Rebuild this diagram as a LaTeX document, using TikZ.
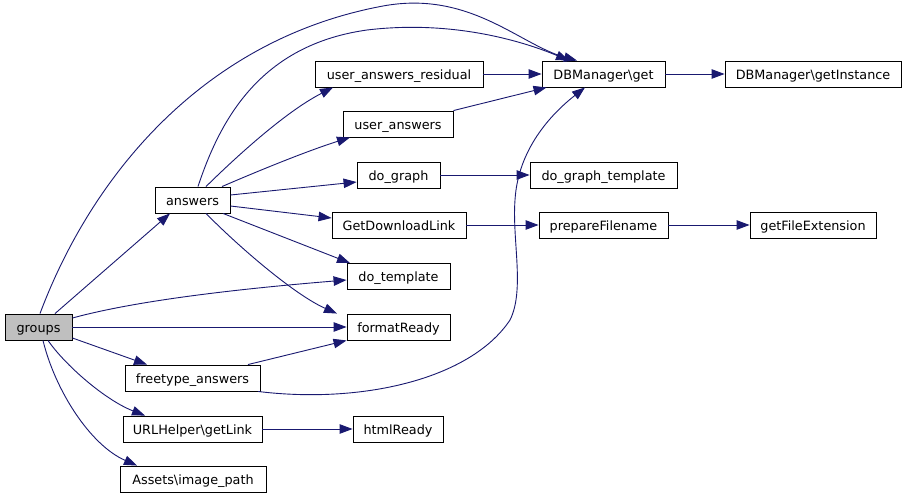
\documentclass[tikz,border=0pt]{standalone}
\usepackage{fontspec}
\setmainfont{DejaVu Sans}
\usetikzlibrary{arrows.meta}
\definecolor{edgec}{HTML}{191970}
\definecolor{curfill}{HTML}{BFBFBF}
\begin{document}
\begin{tikzpicture}[x=1pt,y=-1pt,
  fn/.style={draw=black, line width=0.9pt, fill=white, inner sep=0pt,
    minimum height=26pt, text height=10pt, text depth=0pt,
    font=\fontsize{12.8}{14}\selectfont, anchor=center},
  cur/.style={fn, fill=curfill},
  cg/.style={draw=edgec, line width=0.9pt, -{Triangle[length=13pt,width=9.5pt]}}]
\useasboundingbox[fill=white] (0,0) rectangle (907,498);

\node[cur, minimum width=67pt]  (groups)   at (38.5,327) {groups};
\node[fn, minimum width=75pt]   (answers)  at (192.5,200) {answers};
\node[fn, minimum width=168pt]  (uar)      at (399,74) {user\_answers\_residual};
\node[fn, minimum width=110pt]  (ua)       at (398,124) {user\_answers};
\node[fn, minimum width=83pt]   (dograph)  at (398.5,175) {do\_graph};
\node[fn, minimum width=134pt]  (getdl)    at (399,225) {GetDownloadLink};
\node[fn, minimum width=103pt]  (dotemp)   at (398.5,276.5) {do\_template};
\node[fn, minimum width=103pt]  (fready)   at (398.5,327) {formatReady};
\node[fn, minimum width=135pt]  (freetype) at (192.5,378) {freetype\_answers};
\node[fn, minimum width=139pt]  (url)      at (192.5,429) {URLHelper\textbackslash getLink};
\node[fn, minimum width=90pt]   (html)     at (398,429) {htmlReady};
\node[fn, minimum width=146pt]  (assets)   at (193,479) {Assets\textbackslash image\_path};
\node[fn, minimum width=123pt]  (dbget)    at (603.5,74) {DBManager\textbackslash get};
\node[fn, minimum width=176pt]  (dbgi)     at (813,74) {DBManager\textbackslash getInstance};
\node[fn, minimum width=147pt]  (dgt)      at (603.5,175) {do\_graph\_template};
\node[fn, minimum width=129pt]  (prep)     at (603.5,225) {prepareFilename};
\node[fn, minimum width=126pt]  (getfe)    at (813,225) {getFileExtension};

% groups
\draw[cg] ([xshift=16.5pt]groups.north) -- ([xshift=-22.5pt]answers.south);
\draw[cg] ([xshift=1.5pt]groups.north) .. controls (90,180) and (200,40) .. (383,6)
  .. controls (470,-10) and (520,45) .. ([xshift=-26.5pt]dbget.north);
\draw[cg] ([yshift=9pt]groups.east) .. controls (120,305) and (200,292) .. ([yshift=-3.5pt]dotemp.west);
\draw[cg] (groups.east) -- (fready.west);
\draw[cg] ([yshift=-11pt]groups.east) -- ([xshift=-45.5pt]freetype.north);
\draw[cg] ([xshift=9.5pt]groups.south) .. controls (65,365) and (105,400) .. ([xshift=-47.5pt]url.north);
\draw[cg] ([xshift=4.5pt]groups.south) .. controls (55,390) and (90,445) .. ([xshift=-56pt]assets.north);

% answers
\draw[cg] ([xshift=5.5pt]answers.north) .. controls (220,120) and (260,45) .. (367,30)
  .. controls (450,20) and (520,40) .. ([xshift=-34.5pt]dbget.north);
\draw[cg] ([xshift=13.5pt]answers.north) .. controls (235,158) and (285,112) .. ([xshift=-66pt]uar.south);
\draw[cg] ([xshift=29.5pt]answers.north) .. controls (265,168) and (310,150) .. ([xshift=-48pt]ua.south);
\draw[cg] ([yshift=5pt]answers.east) -- ([yshift=-7pt]dograph.west);
\draw[cg] ([yshift=-6pt]answers.east) -- ([yshift=7pt]getdl.west);
\draw[cg] ([xshift=30.5pt]answers.south) -- ([xshift=-48.5pt]dotemp.north);
\draw[cg] ([xshift=13.5pt]answers.south) .. controls (240,248) and (295,295) .. ([xshift=-61.5pt]fready.north);

% others
\draw[cg] (uar.east) -- (dbget.west);
\draw[cg] (ua.north east) -- ([xshift=5pt]dbget.south west);
\draw[cg] (dograph.east) -- (dgt.west);
\draw[cg] (getdl.east) -- (prep.west);
\draw[cg] (prep.east) -- (getfe.west);
\draw[cg] (dbget.east) -- (dbgi.west);
\draw[cg] (url.east) -- (html.west);
\draw[cg] ([xshift=55.5pt]freetype.north) -- (fready.south west);
\draw[cg] ([xshift=65.5pt]freetype.south) .. controls (360,404) and (470,380) .. (510,320)
  .. controls (525,290) and (512,240) .. (515,200)
  .. controls (518,150) and (550,115) .. ([xshift=-18.5pt]dbget.south);
\end{tikzpicture}
\end{document}
